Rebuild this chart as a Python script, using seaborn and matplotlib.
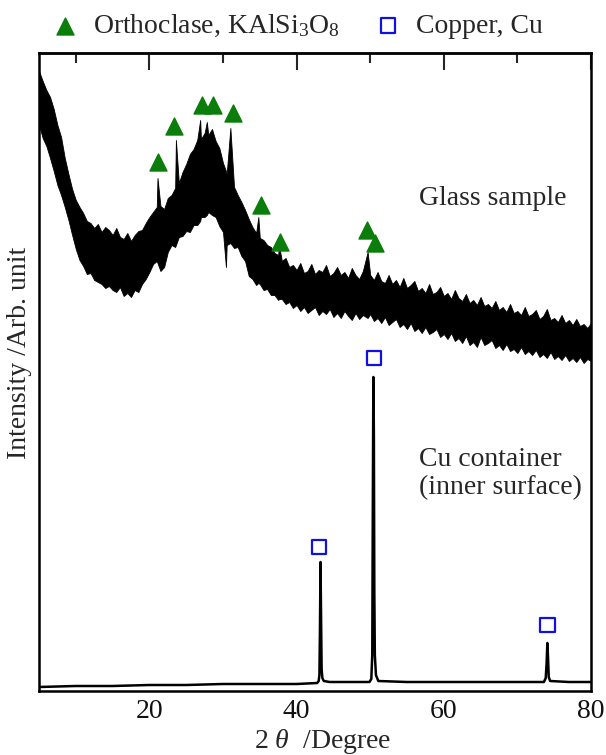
import numpy as np
import pandas as pd
import matplotlib
matplotlib.use("Agg")
import matplotlib.pyplot as plt
import seaborn as sns

# ---------------- data ----------------
# Glass sample: noisy XRD pattern, given as upper / lower edge of the noise band
glass_two_theta = [
    5.0, 5.5, 6.0, 6.5, 7.0, 7.5, 8.0, 8.5, 9.0, 9.5,
    10.0, 10.5, 11.0, 11.5, 12.0, 12.5, 13.0, 13.5, 14.0, 14.5,
    15.0, 15.5, 16.0, 16.5, 17.0, 17.5, 18.0, 18.5, 19.0, 19.5,
    20.0, 20.5, 21.0, 21.1, 21.5, 22.0, 22.5, 23.0, 23.5, 23.6,
    24.0, 24.5, 25.0, 25.5, 26.0, 26.5, 26.9, 27.0, 27.5, 27.8,
    28.0, 28.5, 29.0, 29.5, 30.0, 30.4, 30.5, 31.0, 31.5, 32.0,
    32.5, 33.0, 33.5, 34.0, 34.5, 34.8, 35.0, 35.5, 36.0, 36.5,
    37.0, 37.5, 37.6, 38.0, 38.5, 39.0, 39.5, 40.0, 40.5, 41.0,
    41.5, 42.0, 42.5, 43.0, 43.5, 44.0, 44.5, 45.0, 45.5, 46.0,
    46.5, 47.0, 47.5, 48.0, 48.5, 49.0, 49.65, 50.0, 50.5, 51.0,
    51.5, 52.0, 52.5, 53.0, 53.5, 54.0, 54.5, 55.0, 55.5, 56.0,
    56.5, 57.0, 57.5, 58.0, 58.5, 59.0, 59.5, 60.0, 60.5, 61.0,
    61.5, 62.0, 62.5, 63.0, 63.5, 64.0, 64.5, 65.0, 65.5, 66.0,
    66.5, 67.0, 67.5, 68.0, 68.5, 69.0, 69.5, 70.0, 70.5, 71.0,
    71.5, 72.0, 72.5, 73.0, 73.5, 74.0, 74.5, 75.0, 75.5, 76.0,
    76.5, 77.0, 77.5, 78.0, 78.5, 79.0, 79.5, 80.0]
glass_upper = [
    620, 610, 601, 594, 582, 566, 554, 533, 517, 502,
    491, 484, 478, 470, 468, 463, 467, 459, 464, 461,
    456, 463, 454, 452, 458, 450, 456, 460, 461, 468,
    474, 479, 484, 513, 485, 482, 493, 496, 503, 551,
    508, 519, 527, 537, 542, 551, 571, 552, 558, 569,
    556, 562, 550, 543, 528, 520, 517, 563, 504, 496,
    489, 481, 472, 464, 458, 474, 453, 451, 446, 444,
    438, 436, 446, 430, 433, 424, 426, 421, 428, 418,
    420, 427, 417, 421, 419, 426, 415, 418, 424, 416,
    419, 413, 423, 416, 412, 420, 439, 416, 411, 419,
    410, 408, 416, 407, 411, 404, 413, 403, 406, 410,
    400, 403, 398, 407, 397, 399, 404, 395, 398, 392,
    401, 393, 390, 397, 388, 391, 386, 394, 385, 387,
    383, 390, 381, 384, 379, 387, 378, 380, 376, 384,
    375, 377, 381, 372, 375, 382, 371, 373, 369, 376,
    368, 371, 366, 372, 365, 367, 363, 368]
glass_lower = [
    566, 553, 545, 533, 520, 506, 496, 484, 471, 456,
    442, 431, 425, 417, 418, 411, 409, 407, 403, 405,
    401, 399, 404, 395, 398, 394, 401, 399, 407, 412,
    419, 427, 430, 428, 420, 424, 439, 446, 444, 446,
    454, 455, 460, 459, 466, 466, 470, 474, 474, 476,
    479, 476, 474, 465, 459, 424, 446, 448, 443, 444,
    435, 430, 415, 412, 406, 408, 407, 401, 402, 396,
    396, 391, 392, 392, 387, 389, 383, 386, 380, 384,
    378, 381, 384, 376, 380, 377, 382, 374, 378, 373,
    380, 375, 371, 378, 372, 376, 373, 377, 370, 373,
    368, 374, 366, 369, 372, 364, 367, 362, 368, 360,
    363, 358, 364, 357, 359, 362, 354, 357, 352, 358,
    350, 353, 348, 355, 346, 349, 344, 354, 346, 348,
    351, 343, 346, 341, 347, 340, 342, 338, 344, 337,
    340, 336, 341, 334, 337, 333, 339, 332, 335, 331,
    336, 330, 333, 329, 334, 328, 332, 330]

# Cu container (inner surface)
cu_two_theta = [5.0, 10.0, 15.0, 20.0, 25.0, 30.0, 35.0, 40.0, 42.8, 43.0, 43.1,
                43.17, 43.25, 43.33, 43.4, 43.5, 43.7, 44.5, 47.0, 49.9, 50.15,
                50.28, 50.36, 50.43, 50.5, 50.56, 50.63, 50.78, 51.1, 55.0, 60.0,
                65.0, 70.0, 73.6, 73.85, 73.97, 74.07, 74.16, 74.26, 74.45, 77.0, 80.0]
cu_intensity = [4, 5, 5, 6, 6, 7, 7, 7, 8, 10, 16,
                60, 129, 70, 22, 13, 10, 9, 9, 9, 12,
                36, 194, 314, 258, 100, 36, 16, 10, 9, 9,
                9, 9, 9, 13, 28, 48, 34, 14, 10, 9, 9]

# Peak markers
ortho_two_theta = [21.2, 23.3, 27.1, 28.6, 31.4, 35.1, 37.8, 49.5, 50.65]
ortho_y = [529, 565, 586, 586, 578, 486, 449, 461, 448]
copper_two_theta = [43.07, 50.5, 74.06]
copper_y = [144, 333, 66]

x_ticks = [20, 40, 60, 80]
x_minor = [10, 30, 50, 70]

# ---------------- figure ----------------
sns.set_theme(style="white")
plt.rcParams["font.family"] = ["Liberation Serif", "DejaVu Serif"]
plt.rcParams["mathtext.fontset"] = "custom"
plt.rcParams["mathtext.rm"] = "Liberation Serif"
plt.rcParams["mathtext.it"] = "Liberation Serif:italic"

fig = plt.figure(figsize=(6.06, 7.55), dpi=100)
ax = fig.add_axes([39 / 606, 64 / 755, 552 / 606, 638 / 755])

glass_df = pd.DataFrame({
    "two_theta": glass_two_theta + glass_two_theta,
    "intensity": glass_upper + glass_lower,
})
sns.lineplot(data=glass_df, x="two_theta", y="intensity", estimator="mean",
             errorbar=("pi", 100), color="black", linewidth=0.8, ax=ax,
             err_kws={"alpha": 1, "linewidth": 0.6, "facecolor": "black",
                      "edgecolor": "black"})

cu_df = pd.DataFrame({"two_theta": cu_two_theta, "intensity": cu_intensity})
sns.lineplot(data=cu_df, x="two_theta", y="intensity", color="black",
             linewidth=1.8, ax=ax, sort=False)

sns.scatterplot(x=ortho_two_theta, y=ortho_y, marker="^", s=150, color="#0a7d0a",
                edgecolor="#0a7d0a", ax=ax, zorder=5,
                label="Orthoclase, KAlSi$_3$O$_8$")
sns.scatterplot(x=copper_two_theta, y=copper_y, marker="s", s=110, facecolor="none",
                edgecolor="#1010e0", linewidth=1.6, ax=ax, zorder=5,
                label="Copper, Cu")

ax.set_xlim(5, 80)
ax.set_ylim(0, 638)
ax.set_xticks(x_ticks)
ax.set_xticks(x_minor, minor=True)
ax.set_yticks([])
ax.tick_params(axis="x", which="major", direction="in", length=10, width=1.5,
               labelsize=20, pad=6, colors="black")
ax.tick_params(axis="x", which="minor", direction="out", length=6, width=1.5)
ax.tick_params(axis="x", labelcolor="#111111")
for sp in ax.spines.values():
    sp.set_visible(True)
    sp.set_color("black")
    sp.set_linewidth(1.8)

top = ax.secondary_xaxis("top")
top.set_xticks(x_ticks)
top.set_xticks(x_minor, minor=True)
top.set_xticklabels([])
top.tick_params(axis="x", which="major", direction="in", length=12, width=1.5)
top.tick_params(axis="x", which="minor", direction="in", length=7, width=1.5)
top.spines["top"].set_linewidth(1.8)

ax.set_xlabel("2 $\\theta$  /Degree", fontsize=20)
ax.xaxis.set_label_coords(0.513, -0.056)
ax.set_ylabel("Intensity /Arb. unit", fontsize=20)
ax.yaxis.set_label_coords(-0.013, 0.53)

ax.text(0.688, 0.772, "Glass sample", transform=ax.transAxes, fontsize=20,
        ha="left", va="center")
ax.text(0.688, 0.341, "Cu container\n(inner surface)", transform=ax.transAxes,
        fontsize=20, ha="left", va="center", linespacing=1.15)

leg = ax.legend(loc="lower center", bbox_to_anchor=(0.467, 1.0), ncol=2,
                frameon=False, fontsize=20, handlelength=1.0, handletextpad=0.5,
                columnspacing=1.25, borderaxespad=0.1, markerscale=1.0)

fig.savefig("out.png", dpi=100)
